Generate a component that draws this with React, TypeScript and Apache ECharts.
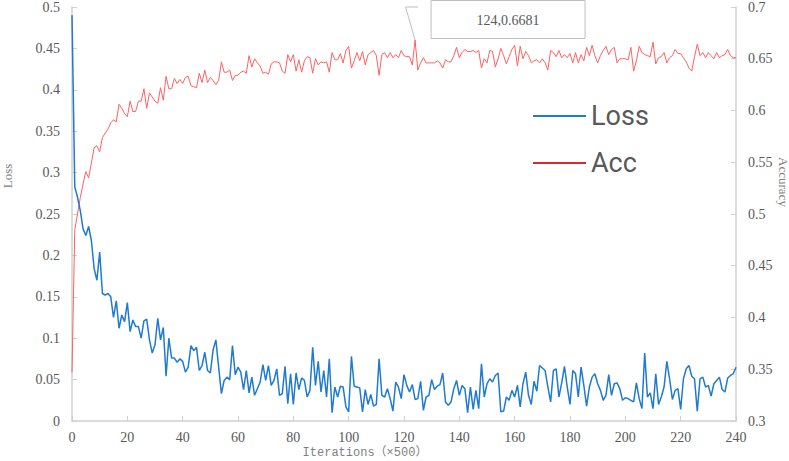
import React, { useEffect, useRef } from "react";
import * as echarts from "echarts";

const seriesNames = ["Loss", "Acc"];
const xAxisTitle = "Iterations（×500）";
const lossAxisTitle = "Loss";
const accAxisTitle = "Accuracy";
const annotateIndex = 124;

// Loss, iterations 0..240
const loss = [
  0.49, 0.283, 0.27, 0.254, 0.232, 0.224, 0.235, 0.218, 0.184, 0.17,
  0.204, 0.154, 0.152, 0.154, 0.15, 0.125, 0.145, 0.112, 0.128, 0.12,
  0.143, 0.108, 0.122, 0.114, 0.114, 0.1, 0.121, 0.123, 0.098, 0.082,
  0.092, 0.124, 0.098, 0.113, 0.054, 0.1, 0.076, 0.076, 0.071, 0.075,
  0.072, 0.059, 0.065, 0.091, 0.085, 0.089, 0.061, 0.067, 0.083, 0.061,
  0.058, 0.086, 0.098, 0.065, 0.033, 0.049, 0.053, 0.05, 0.091, 0.056,
  0.065, 0.059, 0.038, 0.061, 0.034, 0.053, 0.031, 0.039, 0.047, 0.068,
  0.049, 0.067, 0.043, 0.049, 0.063, 0.031, 0.033, 0.066, 0.021, 0.057,
  0.02, 0.058, 0.038, 0.052, 0.049, 0.029, 0.037, 0.089, 0.043, 0.072,
  0.035, 0.061, 0.029, 0.075, 0.01, 0.041, 0.029, 0.042, 0.041, 0.017,
  0.011, 0.078, 0.042, 0.041, 0.04, 0.011, 0.038, 0.02, 0.032, 0.018,
  0.02, 0.075, 0.031, 0.029, 0.039, 0.027, 0.012, 0.047, 0.041, 0.027,
  0.056, 0.043, 0.035, 0.044, 0.026, 0.027, 0.048, 0.013, 0.029, 0.031,
  0.05, 0.038, 0.042, 0.044, 0.058, 0.023, 0.019, 0.023, 0.039, 0.049,
  0.031, 0.043, 0.039, 0.01, 0.041, 0.014, 0.037, 0.015, 0.069, 0.029,
  0.045, 0.051, 0.047, 0.055, 0.058, 0.011, 0.012, 0.029, 0.025, 0.037,
  0.029, 0.043, 0.017, 0.045, 0.059, 0.031, 0.02, 0.048, 0.036, 0.067,
  0.064, 0.061, 0.041, 0.023, 0.061, 0.063, 0.029, 0.046, 0.066, 0.041,
  0.02, 0.061, 0.057, 0.029, 0.065, 0.043, 0.018, 0.041, 0.053, 0.057,
  0.045, 0.037, 0.025, 0.031, 0.056, 0.031, 0.045, 0.046, 0.039, 0.025,
  0.028, 0.027, 0.025, 0.023, 0.046, 0.027, 0.015, 0.082, 0.029, 0.034,
  0.015, 0.057, 0.02, 0.029, 0.041, 0.072, 0.051, 0.026, 0.037, 0.039,
  0.014, 0.051, 0.063, 0.067, 0.054, 0.051, 0.012, 0.051, 0.053, 0.041,
  0.043, 0.03, 0.045, 0.049, 0.053, 0.038, 0.035, 0.052, 0.055, 0.057,
  0.065,
];

// Accuracy, iterations 0..240
const acc = [
  0.347, 0.485, 0.5, 0.516, 0.529, 0.541, 0.535, 0.549, 0.564, 0.566,
  0.56, 0.574, 0.578, 0.582, 0.588, 0.591, 0.589, 0.606, 0.602, 0.597,
  0.594, 0.609, 0.599, 0.599, 0.609, 0.609, 0.621, 0.602, 0.617, 0.613,
  0.609, 0.607, 0.622, 0.61, 0.633, 0.621, 0.621, 0.631, 0.626, 0.63,
  0.626, 0.632, 0.633, 0.624, 0.623, 0.622, 0.636, 0.627, 0.639, 0.627,
  0.632, 0.629, 0.625, 0.629, 0.647, 0.637, 0.637, 0.639, 0.629, 0.634,
  0.634, 0.637, 0.638, 0.636, 0.653, 0.642, 0.65, 0.646, 0.643, 0.636,
  0.637, 0.635, 0.645, 0.647, 0.647, 0.646, 0.638, 0.636, 0.654, 0.647,
  0.654, 0.638, 0.649, 0.637, 0.648, 0.652, 0.651, 0.636, 0.65, 0.644,
  0.647, 0.646, 0.647, 0.637, 0.656, 0.649, 0.649, 0.655, 0.646, 0.658,
  0.662, 0.641, 0.648, 0.656, 0.648, 0.657, 0.644, 0.654, 0.656, 0.658,
  0.653, 0.634, 0.654, 0.656, 0.651, 0.656, 0.651, 0.654, 0.651, 0.658,
  0.653, 0.652, 0.652, 0.644, 0.6681, 0.639, 0.646, 0.651, 0.646, 0.646,
  0.646, 0.646, 0.648, 0.646, 0.641, 0.649, 0.647, 0.647, 0.653, 0.661,
  0.651, 0.656, 0.659, 0.657, 0.657, 0.658, 0.656, 0.658, 0.641, 0.65,
  0.646, 0.658, 0.657, 0.642, 0.65, 0.66, 0.653, 0.645, 0.652, 0.659,
  0.663, 0.643, 0.662, 0.65, 0.657, 0.653, 0.646, 0.648, 0.649, 0.646,
  0.65, 0.646, 0.639, 0.658, 0.656, 0.652, 0.658, 0.651, 0.654, 0.651,
  0.655, 0.646, 0.656, 0.646, 0.654, 0.648, 0.661, 0.653, 0.663, 0.653,
  0.646, 0.653, 0.658, 0.662, 0.654, 0.659, 0.661, 0.646, 0.65, 0.65,
  0.65, 0.649, 0.661, 0.638, 0.648, 0.662, 0.656, 0.654, 0.653, 0.652,
  0.666, 0.645, 0.651, 0.652, 0.656, 0.646, 0.651, 0.653, 0.659, 0.655,
  0.655, 0.651, 0.647, 0.641, 0.638, 0.652, 0.664, 0.653, 0.656, 0.651,
  0.656, 0.653, 0.65, 0.656, 0.651, 0.653, 0.654, 0.659, 0.653, 0.651,
  0.651,
];

const fmt = (v: number) => String(+v.toFixed(2));

export default function App() {
  const ref = useRef<HTMLDivElement>(null);

  useEffect(() => {
    const chart = echarts.init(ref.current!, null, { renderer: "svg" });
    const serif = "'Liberation Serif', 'Times New Roman', serif";
    const axisColor = "#d0d0d0";
    const labelColor = "#595959";
    const titleColor = "#7f7f7f";

    const axisCommon = {
      axisLine: { show: true, lineStyle: { color: axisColor, width: 1.5 } },
      axisTick: { show: true, inside: true, length: 5, lineStyle: { color: axisColor, width: 1 } },
      splitLine: { show: false },
    };

    chart.setOption({
      animation: false,
      grid: { left: 72, right: 53, top: 6, bottom: 40, containLabel: false },
      legend: {
        orient: "vertical",
        left: 528,
        top: 97,
        itemWidth: 53,
        itemHeight: 14,
        itemGap: 19,
        icon: "path://M0,6 L53,6 L53,8 L0,8 Z",
        textStyle: {
          color: labelColor,
          fontSize: 27,
          lineHeight: 28,
          fontFamily: "Roboto, 'Noto Sans', sans-serif",
        },
        data: [
          { name: seriesNames[0], itemStyle: { color: "#1f7ad0" } },
          { name: seriesNames[1], itemStyle: { color: "#d42b2b" } },
        ],
      },
      xAxis: {
        type: "value",
        min: 0,
        max: 240,
        interval: 20,
        ...axisCommon,
        axisLabel: { color: labelColor, fontFamily: serif, fontSize: 14, margin: 9 },
      },
      yAxis: [
        {
          type: "value",
          position: "left",
          min: 0,
          max: 0.5,
          interval: 0.05,
          ...axisCommon,
          axisLabel: { color: labelColor, fontFamily: serif, fontSize: 14, margin: 12, formatter: fmt },
        },
        {
          type: "value",
          position: "right",
          min: 0.3,
          max: 0.7,
          interval: 0.05,
          ...axisCommon,
          axisLabel: { color: labelColor, fontFamily: serif, fontSize: 14, margin: 12, formatter: fmt },
        },
      ],
      series: [
        {
          name: seriesNames[0],
          type: "line",
          yAxisIndex: 0,
          data: loss.map((v, i) => [i, v]),
          symbol: "none",
          lineStyle: { color: "#1f7ad0", width: 1.5 },
          itemStyle: { color: "#1f7ad0" },
          z: 3,
        },
        {
          name: seriesNames[1],
          type: "line",
          yAxisIndex: 1,
          data: acc.map((v, i) => [i, v]),
          symbol: "none",
          lineStyle: { color: "#ff6060", width: 1 },
          itemStyle: { color: "#ff6060" },
          z: 2,
        },
      ],
    });

    const p = chart.convertToPixel({ seriesIndex: 1 }, [annotateIndex, acc[annotateIndex]]) as number[];
    const px = p[0];
    const py = p[1];
    const boxX = px + 16;
    const boxW = 154;
    const boxH = 38;

    chart.setOption({
      graphic: [
        {
          type: "polyline",
          shape: { points: [[px, py], [px - 9.5, 7], [px + 3, 7]] },
          style: { stroke: "#bfbfbf", lineWidth: 1, fill: "none" },
          z: 10,
        },
        {
          type: "rect",
          shape: { x: boxX, y: 0.5, width: boxW, height: boxH },
          style: { fill: "#ffffff", stroke: "#bfbfbf", lineWidth: 1 },
          z: 10,
        },
        {
          type: "text",
          x: boxX + boxW / 2,
          y: boxH / 2 + 1,
          style: {
            text: `${annotateIndex},${acc[annotateIndex]}`,
            align: "center",
            verticalAlign: "middle",
            fontFamily: serif,
            fontSize: 14,
            fill: labelColor,
          },
          z: 11,
        },
        {
          type: "text",
          x: 7,
          y: 176,
          rotation: Math.PI / 2,
          style: {
            text: lossAxisTitle,
            align: "center",
            verticalAlign: "middle",
            fontFamily: serif,
            fontSize: 13,
            fill: titleColor,
          },
        },
        {
          type: "text",
          x: 783,
          y: 182,
          rotation: -Math.PI / 2,
          style: {
            text: accAxisTitle,
            align: "center",
            verticalAlign: "middle",
            fontFamily: serif,
            fontSize: 13,
            fill: titleColor,
          },
        },
        {
          type: "text",
          x: 365,
          y: 453,
          style: {
            text: xAxisTitle,
            align: "center",
            verticalAlign: "middle",
            fontFamily: "'Liberation Mono', 'Noto Sans CJK SC', monospace",
            fontSize: 12,
            fill: titleColor,
          },
        },
      ],
    });

    return () => chart.dispose();
  }, []);

  return (
    <div
      ref={ref}
      style={{ position: "fixed", left: 0, top: 0, width: 789, height: 461, background: "#ffffff" }}
    />
  );
}
